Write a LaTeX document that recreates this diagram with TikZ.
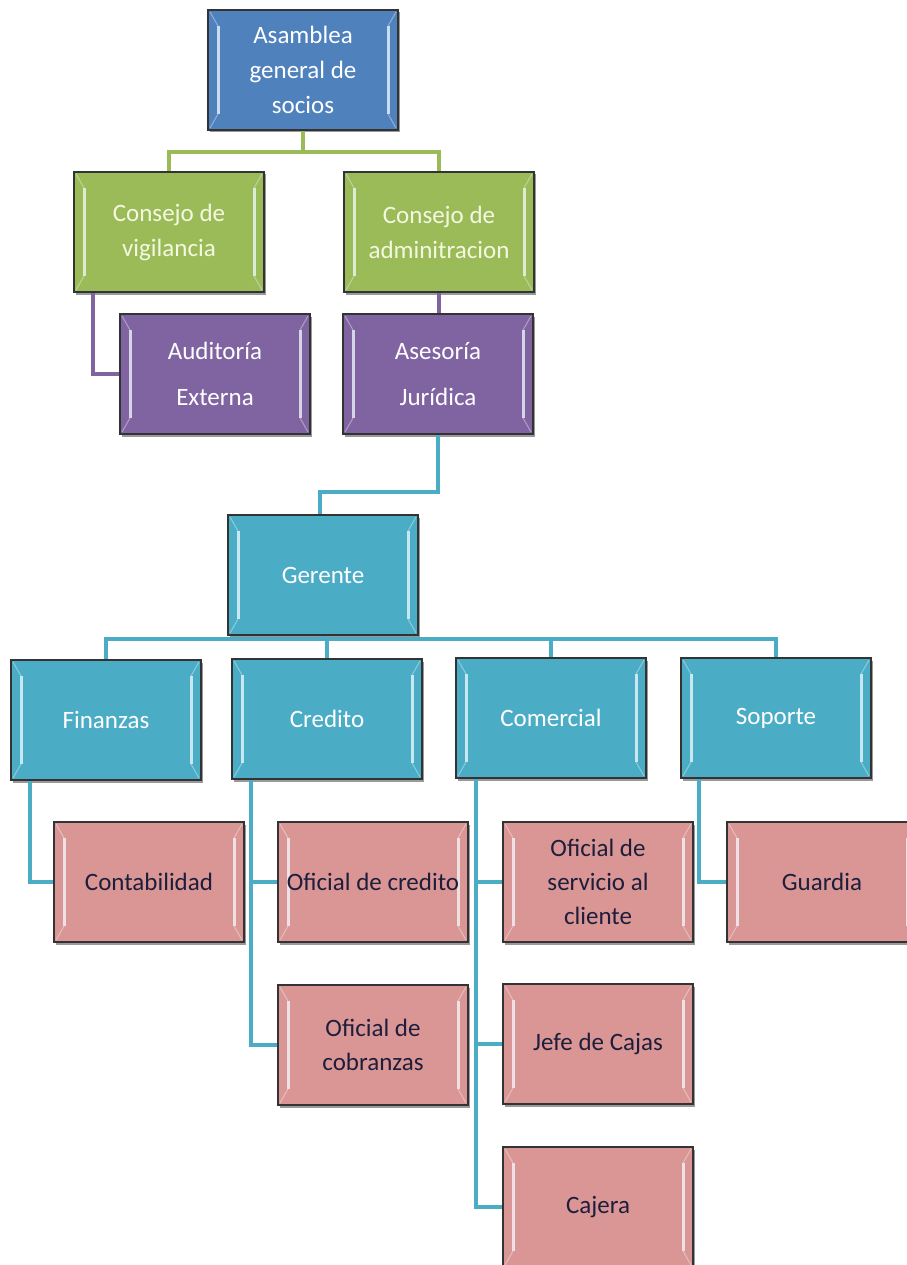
\documentclass[tikz,border=0pt]{standalone}
\usepackage{fontspec}
\setmainfont{Carlito}
\usetikzlibrary{shadows}
\definecolor{cblue}{HTML}{4F81BD}
\definecolor{cgreen}{HTML}{9BBB59}
\definecolor{cpurple}{HTML}{8064A2}
\definecolor{ccyan}{HTML}{4BACC6}
\definecolor{cpink}{HTML}{D99694}
\definecolor{cdark}{HTML}{1E1E3C}
\definecolor{cbevel}{HTML}{F4FBFF}
\tikzset{
  box/.style={draw=black!80, line width=1.6pt, minimum width=190pt, minimum height=120pt,
    align=center, inner sep=0pt, text=white, font=\fontsize{25}{35}\selectfont,
    drop shadow={shadow xshift=1.5pt, shadow yshift=-2.5pt, opacity=0.4, fill=black},
    path picture={
      \draw[cbevel, opacity=0.75, line width=3pt]
        ([xshift=10pt,yshift=-16pt]path picture bounding box.north west) --
        ([xshift=10pt,yshift=16pt]path picture bounding box.south west);
      \draw[cbevel, opacity=0.75, line width=3pt]
        ([xshift=-10pt,yshift=-16pt]path picture bounding box.north east) --
        ([xshift=-10pt,yshift=16pt]path picture bounding box.south east);
      \draw[cbevel, opacity=0.4, line width=1pt]
        ([xshift=2pt,yshift=-2pt]path picture bounding box.north west) -- ([xshift=10pt,yshift=-16pt]path picture bounding box.north west)
        ([xshift=2pt,yshift=2pt]path picture bounding box.south west) -- ([xshift=10pt,yshift=16pt]path picture bounding box.south west)
        ([xshift=-2pt,yshift=-2pt]path picture bounding box.north east) -- ([xshift=-10pt,yshift=-16pt]path picture bounding box.north east)
        ([xshift=-2pt,yshift=2pt]path picture bounding box.south east) -- ([xshift=-10pt,yshift=16pt]path picture bounding box.south east);
    }},
  bluebox/.style={box, fill=cblue},
  greenbox/.style={box, fill=cgreen, text={rgb,255:red,245;green,248;blue,225}},
  purplebox/.style={box, fill=cpurple, font=\fontsize{25}{46}\selectfont},
  cyanbox/.style={box, fill=ccyan},
  pinkbox/.style={box, fill=cpink, text=cdark, font=\fontsize{25}{34}\selectfont},
  conn/.style={line width=4.5pt, line join=miter},
  gline/.style={conn, draw=cgreen},
  pline/.style={conn, draw=cpurple},
  cline/.style={conn, draw=ccyan},
}
\begin{document}
\begin{tikzpicture}[x=1pt,y=-1pt]
\useasboundingbox (0,0) rectangle (906,1265);
\fill[white] (0,0) rectangle (906,1265);

\coordinate (gbus) at (303,152);
\coordinate (abus) at (438,492);
\coordinate (cbus) at (323,639);

% nodes
\node[bluebox]   (asam) at (303,70)  {Asamblea\\general de\\socios};
\node[greenbox]  (cv)   at (169,232) {Consejo de\\vigilancia};
\node[greenbox]  (ca)   at (439,232) {Consejo de\\adminitracion};
\node[purplebox] (aud)  at (215,374) {Auditoría\\Externa};
\node[purplebox] (ase)  at (438,374) {Asesoría\\Jurídica};
\node[cyanbox]   (ger)  at (323,575) {Gerente};
\node[cyanbox]   (fin)  at (106,720) {Finanzas};
\node[cyanbox]   (cred) at (327,719) {Credito};
\node[cyanbox]   (com)  at (551,718) {Comercial};
\node[cyanbox]   (sop)  at (776,718) {Soporte};
\node[pinkbox]   (cont) at (149,882) {Contabilidad};
\node[pinkbox]   (ofcr) at (373,882) {Oficial de credito};
\node[pinkbox]   (ofco) at (373,1045) {Oficial de\\cobranzas};
\node[pinkbox]   (ofsc) at (598,882) {Oficial de\\servicio al\\cliente};
\node[pinkbox]   (jefe) at (598,1044) {Jefe de Cajas};
\node[pinkbox]   (caj)  at (598,1207) {Cajera};
\node[pinkbox]   (guar) at (822,882) {Guardia};

% connectors
\draw[gline] (asam.south) -- (asam.south |- gbus);
\draw[gline] (cv.north) |- (gbus) -| (ca.north);
\draw[pline] ([xshift=20pt]cv.south west) |- (aud.west);
\draw[pline] (ca.south) -- (ca.south |- ase.north);
\draw[cline] (ase.south) |- (abus) -| ([xshift=-3pt]ger.north);
\draw[cline] (ger.south) -- (ger.south |- cbus);
\draw[cline] (fin.north) |- (cbus) -| (sop.north);
\draw[cline] (cred.north) -- (cred.north |- cbus);
\draw[cline] (com.north) -- (com.north |- cbus);
\draw[cline] ([xshift=20pt]fin.south west) |- (cont.west);
\draw[cline] ([xshift=20pt]cred.south west) |- (ofco.west);
\draw[cline] ([xshift=20pt]cred.south west |- ofcr.west) -- (ofcr.west);
\draw[cline] ([xshift=21pt]com.south west) |- (caj.west);
\draw[cline] ([xshift=21pt]com.south west |- ofsc.west) -- (ofsc.west);
\draw[cline] ([xshift=21pt]com.south west |- jefe.west) -- (jefe.west);
\draw[cline] ([xshift=19pt]sop.south west) |- (guar.west);
\end{tikzpicture}
\end{document}
